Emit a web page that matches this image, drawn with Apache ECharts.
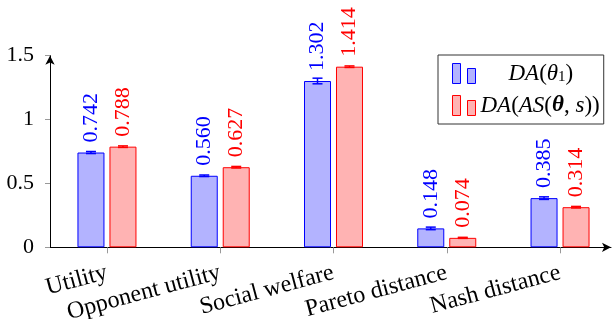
<!DOCTYPE html>
<html>
<head>
<meta charset="utf-8">
<script src="https://cdn.jsdelivr.net/npm/echarts@6/dist/echarts.min.js"></script>
<style>
  html, body { margin: 0; padding: 0; background: #fff; }
  #chart { width: 613px; height: 319px; }
</style>
</head>
<body>
<div id="chart"></div>
<script>
// data
var categories = ['Utility', 'Opponent utility', 'Social welfare', 'Pareto distance', 'Nash distance'];
var daTheta = [0.742, 0.560, 1.302, 0.148, 0.385];
var daThetaErr = [0.008, 0.006, 0.022, 0.010, 0.010];
var daAS = [0.788, 0.627, 1.414, 0.074, 0.314];
var daASErr = [0.006, 0.006, 0.006, 0.004, 0.006];
var yTicks = [0, 0.5, 1, 1.5];

var FONT = '"Liberation Serif", "DejaVu Serif", serif';
var BLUE = '#0000ff', BLUE_FILL = '#b3b3ff';
var RED = '#ff0000', RED_FILL = '#ffb3b3';

function fmtTick(v) {
	return yTicks.indexOf(v) >= 0 ? String(v) : '';
}

function errSeries(vals, errs, color, offset) {
	return {
		type: 'custom',
		xAxisIndex: 1, yAxisIndex: 1,
		z: 5,
		silent: true,
		data: vals.map(function (v, i) { return [i, v, errs[i]]; }),
		encode: { x: 0, y: 1 },
		renderItem: function (params, api) {
			var i = api.value(0), v = api.value(1), e = api.value(2);
			var hi = api.coord([i, v + e]);
			var lo = api.coord([i, v - e]);
			var x = hi[0] + offset;
			var st = { stroke: color, lineWidth: 1.5 };
			return {
				type: 'group',
				children: [
					{ type: 'line', shape: { x1: x, y1: hi[1], x2: x, y2: lo[1] }, style: st },
					{ type: 'line', shape: { x1: x - 5, y1: hi[1], x2: x + 5, y2: hi[1] }, style: st },
					{ type: 'line', shape: { x1: x - 5, y1: lo[1], x2: x + 5, y2: lo[1] }, style: st }
				]
			};
		}
	};
}

function barSeries(name, vals, color, fill) {
	return {
		name: name,
		type: 'bar',
		xAxisIndex: 1, yAxisIndex: 1,
		data: vals,
		barWidth: 27,
		barGap: '18.5%',
		itemStyle: { color: fill, borderColor: color, borderWidth: 1 },
		label: {
			show: true,
			position: 'top',
			rotate: 90,
			align: 'left',
			verticalAlign: 'middle',
			distance: 10,
			color: color,
			fontFamily: FONT,
			fontSize: 22,
			formatter: function (p) { return p.value.toFixed(3); }
		}
	};
}

var chart = echarts.init(document.getElementById('chart'), null, { renderer: 'canvas' });

chart.setOption({
	animation: false,
	textStyle: { fontFamily: FONT },
	grid: [
		// axis lines (x line stops at the arrow)
		{ left: 50, right: 2, top: 55.7, bottom: 71.7, outerBoundsMode: 'none', containLabel: false },
		// bars: category bands start at the y axis
		{ left: 50.33, right: -3.67, top: 55.7, bottom: 71.7, outerBoundsMode: 'none', containLabel: false }
	],
	xAxis: [
		{
			type: 'value', gridIndex: 0, min: 0, max: 1,
			axisLine: { show: true, lineStyle: { color: '#000', width: 1 }, symbol: ['none', 'arrow'], symbolSize: [7, 9] },
			axisTick: { show: false }, axisLabel: { show: false }, splitLine: { show: false }
		},
		{
			type: 'category', gridIndex: 1, data: categories,
			axisLine: { show: false },
			axisTick: { show: true, alignWithLabel: true, length: 6, lineStyle: { color: '#999' } },
			axisLabel: { rotate: 15, margin: 25, color: '#000', fontFamily: FONT, fontSize: 24, interval: 0 }
		}
	],
	yAxis: [
		{
			type: 'value', gridIndex: 0, min: 0, max: 1.5, interval: 0.5,
			axisLine: { show: true, lineStyle: { color: '#000', width: 1 }, symbol: ['none', 'arrow'], symbolSize: [7, 9] },
			axisTick: { show: true, length: 5, lineStyle: { color: '#999' } },
			axisLabel: { color: '#000', fontFamily: FONT, fontSize: 22, margin: 16, formatter: fmtTick },
			splitLine: { show: false }
		},
		{
			type: 'value', gridIndex: 1, min: 0, max: 1.5, show: false
		}
	],
	legend: {
		left: 438, top: 55,
		orient: 'vertical',
		padding: [7, 4, 7, 14],
		itemGap: 9,
		itemWidth: 23, itemHeight: 20,
		itemStyle: { borderWidth: 1 },
		borderColor: '#333', borderWidth: 1,
		icon: 'path://M0,0H8V20H0Z M15,5H23V20H15Z',
		data: ['theta', 'as'],
		formatter: function (name) {
			if (name === 'theta') return '{sp| }{i|DA}{n|(}{i|θ}{sub|1}{n|)}';
			return '{i|DA}{n|(}{i|AS}{n|(}{b|θ}{n|, }{i|s}{n|))}';
		},
		textStyle: {
			color: '#000',
			rich: {
				sp: { width: 28 },
				i: { fontFamily: FONT, fontSize: 23, fontStyle: 'italic', color: '#000' },
				n: { fontFamily: FONT, fontSize: 23, color: '#000' },
				b: { fontFamily: FONT, fontSize: 23, fontStyle: 'italic', fontWeight: 'bold', color: '#000' },
				sub: { fontFamily: FONT, fontSize: 15, color: '#000', verticalAlign: 'bottom', padding: [8, 0, 0, 0] }
			}
		}
	},
	series: [
		barSeries('theta', daTheta, BLUE, BLUE_FILL),
		barSeries('as', daAS, RED, RED_FILL),
		errSeries(daTheta, daThetaErr, BLUE, -16),
		errSeries(daAS, daASErr, RED, 16)
	]
});
</script>
</body>
</html>
